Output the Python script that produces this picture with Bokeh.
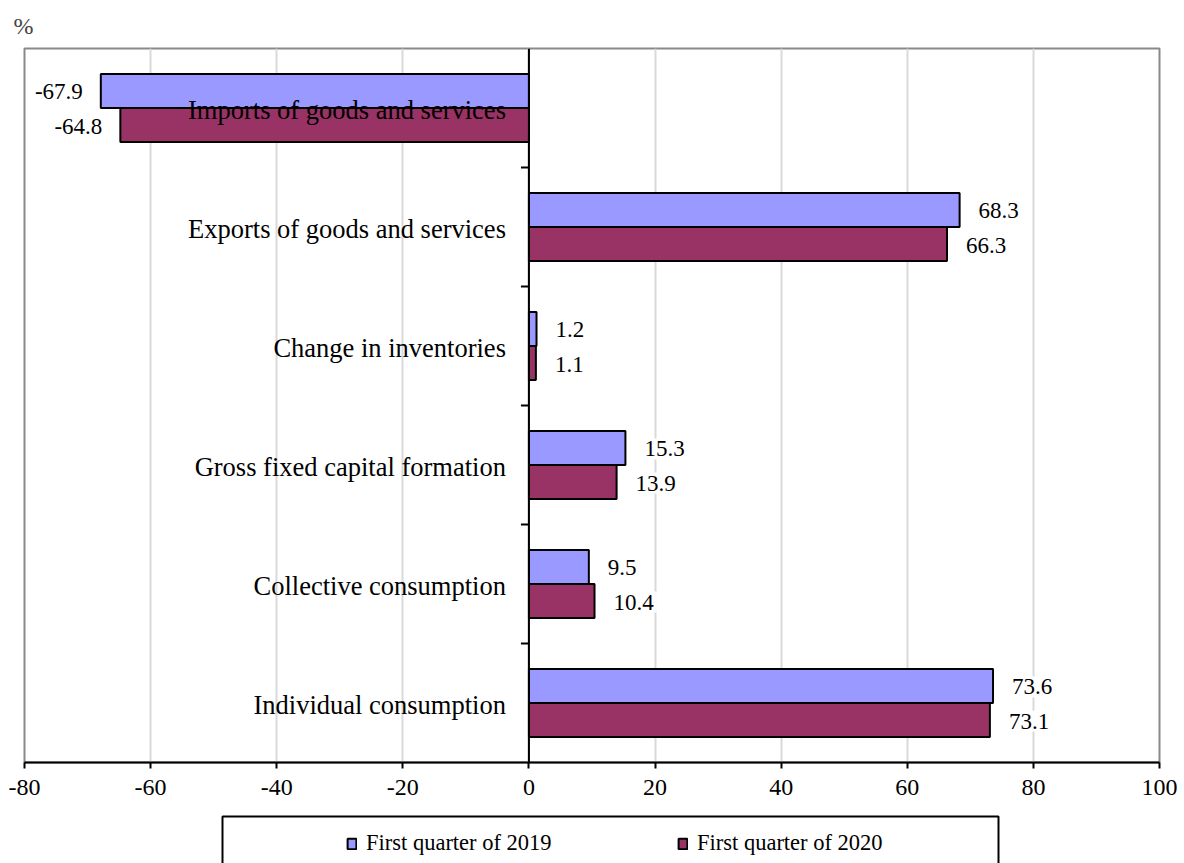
import math
from bokeh.plotting import figure
from bokeh.layouts import column
from bokeh.models import (ColumnDataSource, Range1d, FixedTicker, Legend, Span,
                          BoxAnnotation)
from bokeh.core.properties import value
from bokeh.embed import file_html
from bokeh.resources import INLINE

categories = ["Individual consumption", "Collective consumption",
              "Gross fixed capital formation", "Change in inventories",
              "Exports of goods and services", "Imports of goods and services"]
q2019 = [73.6, 9.5, 15.3, 1.2, 68.3, -67.9]
q2020 = [73.1, 10.4, 13.9, 1.1, 66.3, -64.8]
series_names = ["First quarter of 2019", "First quarter of 2020"]
x_ticks = [-80, -60, -40, -20, 0, 20, 40, 60, 80, 100]

FONT = "Liberation Serif"
C19 = "#9999ff"
C20 = "#993366"
BAR_H = 0.285
DODGE = 0.143

n = len(categories)
centers = [i + 0.5 for i in range(n)]
boundaries = [float(i) for i in range(1, n)]

W = 1184
BL, BR = 24, 25

p = figure(width=W, height=810, output_backend="svg", toolbar_location=None,
           x_range=Range1d(-80, 100), y_range=Range1d(0, n),
           min_border_left=BL, min_border_right=BR, min_border_top=48,
           min_border_bottom=48, title="%")

p.title.text_font = FONT
p.title.text_font_size = "24px"
p.title.text_font_style = "normal"
p.title.align = "left"
p.title.vertical_align = "bottom"
p.title.offset = -11
p.title.standoff = 20

p.outline_line_color = "#898989"
p.outline_line_width = 2
p.background_fill_color = "white"
p.border_fill_color = "white"

# x axis
p.xaxis.ticker = FixedTicker(ticks=x_ticks)
p.xaxis.major_label_overrides = {t: str(t) for t in x_ticks}
p.xaxis.axis_line_color = "black"
p.xaxis.axis_line_width = 2
p.xaxis.major_tick_line_color = "black"
p.xaxis.major_tick_line_width = 2
p.xaxis.major_tick_out = 6
p.xaxis.major_tick_in = 0
p.xaxis.minor_tick_line_color = None
p.xaxis.major_label_text_font = FONT
p.xaxis.major_label_text_font_size = "24px"
p.xaxis.major_label_text_color = "black"
p.xaxis.major_label_standoff = 11

p.yaxis.visible = False

p.xgrid.ticker = FixedTicker(ticks=x_ticks)
p.xgrid.grid_line_color = "#d9d9d9"
p.xgrid.grid_line_width = 2
p.ygrid.grid_line_color = None

src19 = ColumnDataSource(dict(y=[c + DODGE for c in centers], v=q2019))
src20 = ColumnDataSource(dict(y=[c - DODGE for c in centers], v=q2020))

bar19 = dict(fill_color=C19, line_color="black", line_width=2)
bar20 = dict(fill_color=C20, line_color="black", line_width=2)

r19 = p.hbar(y="y", left=0, right="v", height=BAR_H, source=src19, **bar19)
r20 = p.hbar(y="y", left=0, right="v", height=BAR_H, source=src20, **bar20)

# category axis drawn at x = 0, with ticks at category boundaries
p.add_layout(Span(location=0, dimension="height", line_color="black", line_width=2))
p.ray(x=[0] * len(boundaries), y=boundaries, length=8, length_units="screen",
      angle=math.pi, line_color="black", line_width=2)

# data labels
for yc, vals in ((src19.data["y"], q2019), (src20.data["y"], q2020)):
    pos = ColumnDataSource(dict(x=[v for v in vals if v >= 0],
                                y=[y for y, v in zip(yc, vals) if v >= 0],
                                t=[f"{v:.1f}" for v in vals if v >= 0]))
    neg = ColumnDataSource(dict(x=[v for v in vals if v < 0],
                                y=[y for y, v in zip(yc, vals) if v < 0],
                                t=[f"{v:.1f}" for v in vals if v < 0]))
    p.text(x="x", y="y", text="t", source=pos, x_offset=16, y_offset=1,
           text_align="left", text_baseline="middle",
           text_font=value(FONT), text_font_size="23px", text_color="black",
           background_fill_color="white", padding=3)
    p.text(x="x", y="y", text="t", source=neg, x_offset=-15, y_offset=1,
           text_align="right", text_baseline="middle",
           text_font=value(FONT), text_font_size="23px", text_color="black",
           background_fill_color="white", padding=3)

# category labels next to the zero axis
cat_src = ColumnDataSource(dict(x=[0] * n, y=centers, t=categories))
p.text(x="x", y="y", text="t", source=cat_src, x_offset=-23, y_offset=2,
       text_align="right", text_baseline="middle",
       text_font=value(FONT), text_font_size="26.5px", text_color="black")

# legend strip below the chart; its ranges are in pixels of its own frame
H2 = 53
FW = W - BL - BR
p2 = figure(width=W, height=H2, output_backend="svg", toolbar_location=None,
            x_range=Range1d(0, FW), y_range=Range1d(0, H2),
            min_border_left=BL, min_border_right=BR, min_border_top=0,
            min_border_bottom=0)
p2.xaxis.visible = False
p2.yaxis.visible = False
p2.grid.grid_line_color = None
p2.outline_line_color = None
p2.background_fill_color = "white"
p2.border_fill_color = "white"

p2.add_layout(BoxAnnotation(left=222 - BL, right=998 - BL, top=H2 - 6, bottom=-20,
                            fill_alpha=0, line_color="black", line_width=2,
                            line_alpha=1))

k19 = p2.hbar(y="y", left=0, right="v", height=BAR_H, source=src19, **bar19)
k20 = p2.hbar(y="y", left=0, right="v", height=BAR_H, source=src20, **bar20)
k19.visible = False
k20.visible = False

legend = Legend(items=[(series_names[0], [k19]), (series_names[1], [k20])],
                orientation="horizontal", location=(347 - 1 - BL, 7))
legend.border_line_color = None
legend.background_fill_alpha = 0
legend.padding = 5
legend.margin = 0
legend.spacing = 121
legend.glyph_width = 11
legend.glyph_height = 13
legend.label_standoff = 9
legend.label_width = 190
legend.label_height = 24
legend.label_text_font = FONT
legend.label_text_font_size = "22.5px"
legend.label_text_color = "black"
p2.add_layout(legend, "center")

layout = column(p, p2, spacing=0)
open("out.html", "w").write(file_html(layout, INLINE))
